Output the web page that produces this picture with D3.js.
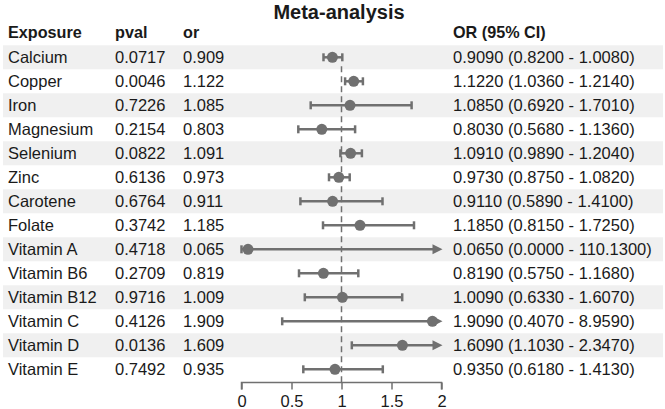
<!DOCTYPE html>
<html><head><meta charset="utf-8">
<script src="https://cdn.jsdelivr.net/npm/d3@7"></script>
<style>body{margin:0;background:#fff}svg{display:block}text{font-family:"Liberation Sans",Arial,sans-serif}</style>
</head><body><svg id="c" width="665" height="409"></svg>
<script>
const exposures = ["Calcium","Copper","Iron","Magnesium","Selenium","Zinc","Carotene","Folate","Vitamin A","Vitamin B6","Vitamin B12","Vitamin C","Vitamin D","Vitamin E"];
const pvals = ["0.0717","0.0046","0.7226","0.2154","0.0822","0.6136","0.6764","0.3742","0.4718","0.2709","0.9716","0.4126","0.0136","0.7492"];
const ors = [0.909,1.122,1.085,0.803,1.091,0.973,0.911,1.185,0.065,0.819,1.009,1.909,1.609,0.935];
const lower = [0.820,1.036,0.692,0.568,0.989,0.875,0.589,0.815,0.000,0.575,0.633,0.407,1.103,0.618];
const upper = [1.008,1.214,1.701,1.136,1.204,1.082,1.410,1.725,110.130,1.168,1.607,8.959,2.347,1.413];
const xTicks = [0,0.5,1,1.5,2];

const svg = d3.select("#c");
const x = d3.scaleLinear().domain([0,2]).range([241.5,441.5]);
const y = d3.scaleBand().domain(exposures).range([45.3,381.3]);
const yc = d => y(d)+y.bandwidth()/2;
const col = "#707070", txt = "#1a1a1a", fs = 16.5;

// bands
svg.append("g").selectAll("rect").data(exposures.filter((d,i)=>i%2===0)).join("rect")
  .attr("x",3).attr("width",660).attr("y",d=>y(d)).attr("height",y.bandwidth()).attr("fill","#f0f0f0");

// title
svg.append("text").attr("x",339).attr("y",19).attr("text-anchor","middle").attr("font-size",20).attr("font-weight","bold").attr("fill",txt).text("Meta-analysis");

// headers
const hdr = [["Exposure",8],["pval",115],["or",183],["OR (95% CI)",453]];
svg.append("g").selectAll("text").data(hdr).join("text").attr("x",d=>d[1]).attr("y",38)
  .attr("font-size",16.2).attr("font-weight","bold").attr("fill",txt).text(d=>d[0]);

// table text
const rows = svg.append("g").selectAll("g").data(exposures).join("g").attr("transform",d=>`translate(0,${yc(d)+5.8})`);
rows.append("text").attr("x",8).attr("font-size",fs).attr("fill",txt).text(d=>d);
rows.append("text").attr("x",115).attr("font-size",fs).attr("fill",txt).text((d,i)=>pvals[i]);
rows.append("text").attr("x",183).attr("font-size",fs).attr("fill",txt).text((d,i)=>ors[i].toFixed(3));
rows.append("text").attr("x",453).attr("font-size",fs).attr("fill",txt)
  .text((d,i)=>`${ors[i].toFixed(4)} (${lower[i].toFixed(4)} - ${upper[i].toFixed(4)})`);

// dashed reference line
svg.append("line").attr("x1",x(1)).attr("x2",x(1)).attr("y1",y(exposures[1])-3).attr("y2",382.5)
  .attr("stroke",col).attr("stroke-width",1.5).attr("stroke-dasharray","6,4");

// CIs
const [d0,d1] = x.domain();
const g = svg.append("g");
exposures.forEach((e,i)=>{
  const cy = yc(e);
  const lo = Math.max(lower[i],d0), hi = Math.min(upper[i],d1);
  const arrow = upper[i] > d1;
  g.append("line").attr("x1",x(lo)).attr("x2",arrow? x(hi)-6 : x(hi)).attr("y1",cy).attr("y2",cy)
    .attr("stroke",col).attr("stroke-width",2.5);
  g.append("line").attr("x1",x(lo)).attr("x2",x(lo)).attr("y1",cy-4).attr("y2",cy+4).attr("stroke",col).attr("stroke-width",2.5);
  if (arrow) {
    g.append("path").attr("d",`M${x(hi)+1},${cy} L${x(hi)-9},${cy-5} L${x(hi)-9},${cy+5} Z`).attr("fill",col);
  } else {
    g.append("line").attr("x1",x(hi)).attr("x2",x(hi)).attr("y1",cy-4).attr("y2",cy+4).attr("stroke",col).attr("stroke-width",2.5);
  }
  g.append("circle").attr("cx",x(ors[i])).attr("cy",cy).attr("r",5.5).attr("fill",col);
});

// axis
const ax = svg.append("g").attr("transform","translate(0,382.5)")
  .call(d3.axisBottom(x).tickValues(xTicks).tickFormat(d3.format("")).tickSize(7));
ax.select(".domain").attr("stroke",col).attr("stroke-width",1.5).attr("d",`M${x(0)},7V0H${x(2)}V7`);
ax.selectAll(".tick line").attr("stroke",col).attr("stroke-width",1.5);
ax.selectAll(".tick text").attr("font-size",16.5).attr("fill",txt).attr("dy",0).attr("y",24).attr("font-family","Liberation Sans, Arial, sans-serif");
</script></body></html>
